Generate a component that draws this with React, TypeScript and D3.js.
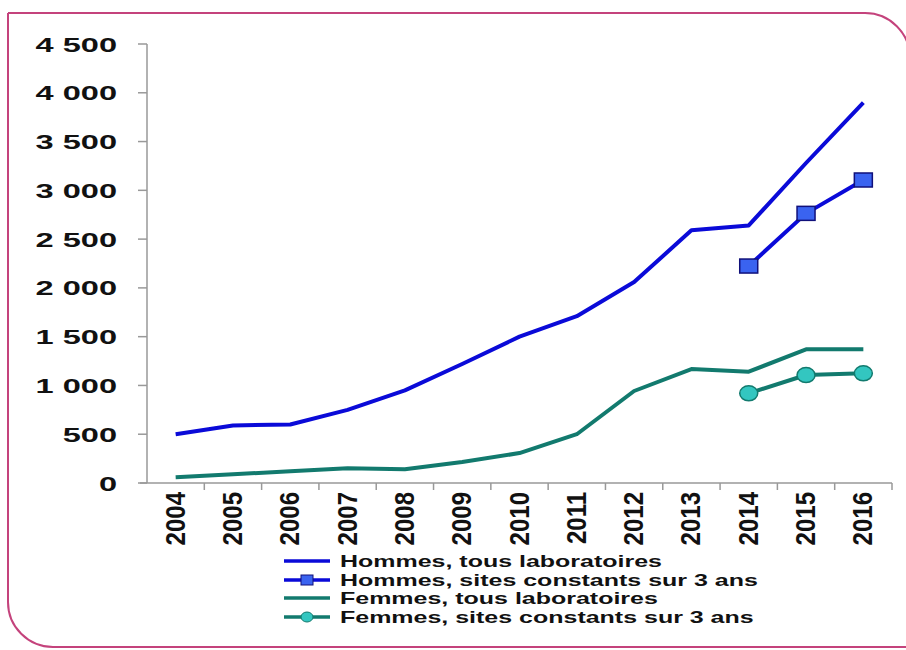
import React from "react";
import * as d3 from "d3";

const years = ["2004","2005","2006","2007","2008","2009","2010","2011","2012","2013","2014","2015","2016"];
const hommesTous = [500, 590, 600, 750, 950, 1220, 1500, 1710, 2060, 2590, 2640, 3280, 3900];
const hommesSites = [null, null, null, null, null, null, null, null, null, null, 2224, 2764, 3106];
const femmesTous = [60, 90, 120, 150, 140, 215, 307, 500, 943, 1168, 1141, 1370, 1370];
const femmesSites = [null, null, null, null, null, null, null, null, null, null, 919, 1107, 1124];
const yTicks = [0, 500, 1000, 1500, 2000, 2500, 3000, 3500, 4000, 4500];
const legendLabels = [
  "Hommes, tous laboratoires",
  "Hommes, sites constants sur 3 ans",
  "Femmes, tous laboratoires",
  "Femmes, sites constants sur 3 ans",
];

const BLUE = "#0a0ad8";
const BLUE_FILL = "#3a63f0";
const TEAL = "#127a6e";
const TEAL_FILL = "#33c6c0";
const FONT = "Liberation Sans, Arial, sans-serif";

export default function App() {
  const W = 906, H = 650;
  const x = d3.scaleBand<string>().domain(years).range([147, 892]);
  const y = d3.scaleLinear().domain([0, 4500]).range([483, 44]);
  const cx = (i: number) => (x(years[i]) as number) + x.bandwidth() / 2;
  const line = d3
    .line<number | null>()
    .defined((d) => d !== null)
    .x((_, i) => cx(i))
    .y((d) => y(d as number));

  const fmt = (v: number) => d3.format(",")(v).replace(/,/g, " ");

  const frame = `M8,13 H865 A45,45 0 0 1 910,58 V660 M8,13 V602 A45,45 0 0 0 53,647 H910`;

  const legendY = [561, 580, 598, 617];

  return (
    <svg width={W} height={H} style={{ position: "absolute", left: 0, top: 0, background: "#fff" }}>
      <path d={frame} fill="none" stroke="#c4437c" strokeWidth={2} />
      {/* y axis */}
      <line x1={147} x2={147} y1={44} y2={483} stroke="#999" strokeWidth={1.5} />
      {yTicks.map((t) => (
        <g key={t}>
          <line x1={138} x2={147} y1={y(t)} y2={y(t)} stroke="#999" strokeWidth={1.5} />
          <text
            transform={`translate(117,${y(t)}) scale(1.55,1)`}
            dy="0.36em"
            textAnchor="end"
            fontFamily={FONT}
            fontWeight="bold"
            fontSize={21}
            fill="#111"
          >
            {fmt(t)}
          </text>
        </g>
      ))}
      {/* x axis */}
      <line x1={140} x2={892} y1={483} y2={483} stroke="#999" strokeWidth={1.5} />
      {years.map((yr, i) => (
        <g key={yr}>
          <line x1={(x(yr) as number) + x.bandwidth()} x2={(x(yr) as number) + x.bandwidth()} y1={483} y2={490} stroke="#999" strokeWidth={1.5} />
          <text
            transform={`translate(${cx(i) + 9},${492}) rotate(-90) scale(1.2,1.35)`}
            textAnchor="end"
            fontFamily={FONT}
            fontWeight="bold"
            fontSize={20}
            fill="#111"
          >
            {yr}
          </text>
        </g>
      ))}
      {/* series */}
      <path d={line(hommesTous) || ""} fill="none" stroke={BLUE} strokeWidth={4} strokeLinejoin="round" />
      <path d={line(hommesSites) || ""} fill="none" stroke={BLUE} strokeWidth={4} strokeLinejoin="round" />
      <path d={line(femmesTous) || ""} fill="none" stroke={TEAL} strokeWidth={4} strokeLinejoin="round" />
      <path d={line(femmesSites) || ""} fill="none" stroke={TEAL} strokeWidth={4} strokeLinejoin="round" />
      {hommesSites.map((v, i) =>
        v === null ? null : (
          <rect key={"hs" + i} x={cx(i) - 9} y={y(v) - 7} width={18} height={14} fill={BLUE_FILL} stroke="#10107a" strokeWidth={1.5} />
        )
      )}
      {femmesSites.map((v, i) =>
        v === null ? null : (
          <ellipse key={"fs" + i} cx={cx(i)} cy={y(v)} rx={9} ry={7.5} fill={TEAL_FILL} stroke={TEAL} strokeWidth={1.5} />
        )
      )}
      {/* legend */}
      {legendLabels.map((lab, i) => {
        const ly = legendY[i];
        const col = i < 2 ? BLUE : TEAL;
        return (
          <g key={lab}>
            <line x1={284} x2={330} y1={ly} y2={ly} stroke={col} strokeWidth={3.5} />
            {i === 1 && <rect x={301} y={ly - 5} width={12} height={10} fill={BLUE_FILL} stroke="#10107a" strokeWidth={1} />}
            {i === 3 && <ellipse cx={307} cy={ly} rx={6} ry={5} fill={TEAL_FILL} stroke={TEAL} strokeWidth={1} />}
            <text
              transform={`translate(340,${ly}) scale(1.47,1)`}
              dy="0.36em"
              fontFamily={FONT}
              fontWeight="bold"
              fontSize={17}
              fill="#111"
            >
              {lab}
            </text>
          </g>
        );
      })}
    </svg>
  );
}
